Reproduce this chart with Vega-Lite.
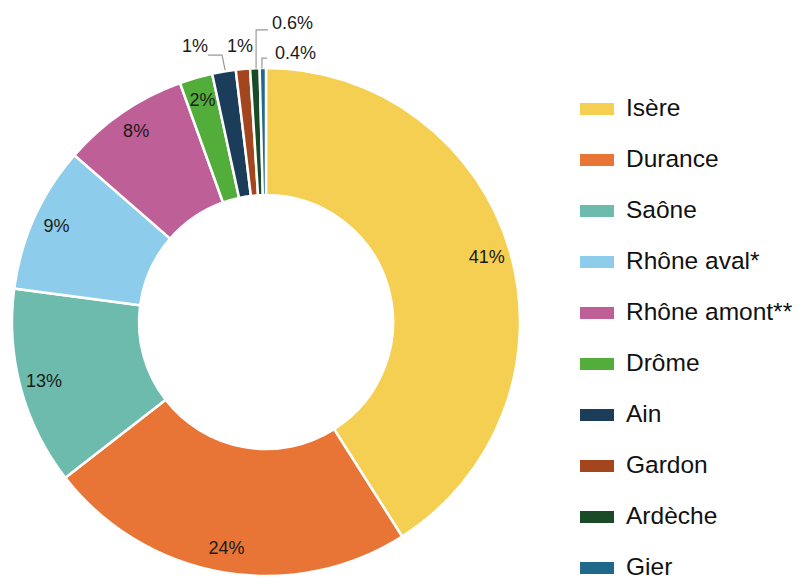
{
  "$schema": "https://vega.github.io/schema/vega-lite/v6.json",
  "width": 508,
  "height": 508,
  "autosize": {"type": "none"},
  "padding": {"left": 12, "top": 68, "right": 282, "bottom": 1},
  "background": "white",
  "config": {
    "view": {"stroke": null},
    "font": "Liberation Sans",
    "text": {"font": "Liberation Sans"},
    "legend": {
      "orient": "none",
      "legendX": 568,
      "legendY": 24,
      "title": null,
      "symbolType": "M-1,-0.35H1V0.35H-1Z",
      "symbolSize": 1156,
      "symbolStrokeWidth": 0,
      "labelFontSize": 24.5,
      "labelFont": "Liberation Sans",
      "labelColor": "#111111",
      "labelOffset": 12,
      "rowPadding": 22.0,
      "labelLimit": 250
    }
  },
  "datasets": {
    "parts": [
      {"riviere": "Isère", "value": 41.0, "label": "41%"},
      {"riviere": "Durance", "value": 23.5, "label": "24%"},
      {"riviere": "Saône", "value": 12.6, "label": "13%"},
      {"riviere": "Rhône aval*", "value": 9.3, "label": "9%"},
      {"riviere": "Rhône amont**", "value": 8.1, "label": "8%"},
      {"riviere": "Drôme", "value": 2.1, "label": "2%"},
      {"riviere": "Ain", "value": 1.5, "label": "1%"},
      {"riviere": "Gardon", "value": 0.9, "label": "1%"},
      {"riviere": "Ardèche", "value": 0.6, "label": "0.6%"},
      {"riviere": "Gier", "value": 0.4, "label": "0.4%"}
    ],
    "leaders": [
      {"g": "Ain", "k": 1, "x": -0.228, "y": 1.051},
      {"g": "Ain", "k": 2, "x": -0.173, "y": 1.051},
      {"g": "Ain", "k": 3, "x": -0.161, "y": 0.992},
      {"g": "Ardèche", "k": 1, "x": -0.039, "y": 0.998},
      {"g": "Ardèche", "k": 2, "x": -0.039, "y": 1.150},
      {"g": "Ardèche", "k": 3, "x": 0.008, "y": 1.150},
      {"g": "Gier", "k": 1, "x": -0.016, "y": 0.998},
      {"g": "Gier", "k": 2, "x": -0.016, "y": 1.039},
      {"g": "Gier", "k": 3, "x": 0.004, "y": 1.039}
    ],
    "outer": [
      {"t": "1%", "x": -0.331, "y": 1.083},
      {"t": "1%", "x": -0.154, "y": 1.083},
      {"t": "0.6%", "x": 0.024, "y": 1.173},
      {"t": "0.4%", "x": 0.035, "y": 1.055}
    ]
  },
  "layer": [
    {
      "data": {"name": "parts"},
      "mark": {"type": "arc", "innerRadius": 127, "outerRadius": 254, "stroke": "white", "strokeWidth": 2.5},
      "encoding": {
        "theta": {"field": "value", "type": "quantitative", "stack": true},
        "order": {"field": "value", "sort": "descending"},
        "color": {
          "field": "riviere",
          "type": "nominal",
          "sort": null,
          "scale": {
            "domain": ["Isère", "Durance", "Saône", "Rhône aval*", "Rhône amont**", "Drôme", "Ain", "Gardon", "Ardèche", "Gier"],
            "range": ["#F5CF52", "#E87535", "#6CBBAC", "#8DCDEB", "#BF5F97", "#52AD3B", "#1C3D5A", "#A3461E", "#1B4A28", "#21698A"]
          }
        }
      }
    },
    {
      "data": {"name": "parts"},
      "mark": {"type": "text", "radius": 230, "fontSize": 18, "color": "#1a1a1a", "baseline": "middle", "align": "center"},
      "encoding": {
        "theta": {"field": "value", "type": "quantitative", "stack": true},
        "order": {"field": "value", "sort": "descending"},
        "text": {"condition": {"test": "datum.value >= 2", "field": "label"}, "value": ""}
      }
    },
    {
      "data": {"name": "leaders"},
      "mark": {"type": "line", "color": "#999999", "strokeWidth": 1.2, "clip": false},
      "encoding": {
        "x": {"field": "x", "type": "quantitative", "scale": {"domain": [-1, 1], "nice": false, "zero": false}, "axis": null},
        "y": {"field": "y", "type": "quantitative", "scale": {"domain": [-1, 1], "nice": false, "zero": false}, "axis": null},
        "detail": {"field": "g"},
        "order": {"field": "k"}
      }
    },
    {
      "data": {"name": "outer"},
      "mark": {"type": "text", "fontSize": 18, "color": "#1a1a1a", "align": "left", "baseline": "middle", "clip": false},
      "encoding": {
        "x": {"field": "x", "type": "quantitative", "scale": {"domain": [-1, 1], "nice": false, "zero": false}, "axis": null},
        "y": {"field": "y", "type": "quantitative", "scale": {"domain": [-1, 1], "nice": false, "zero": false}, "axis": null},
        "text": {"field": "t"}
      }
    }
  ]
}
